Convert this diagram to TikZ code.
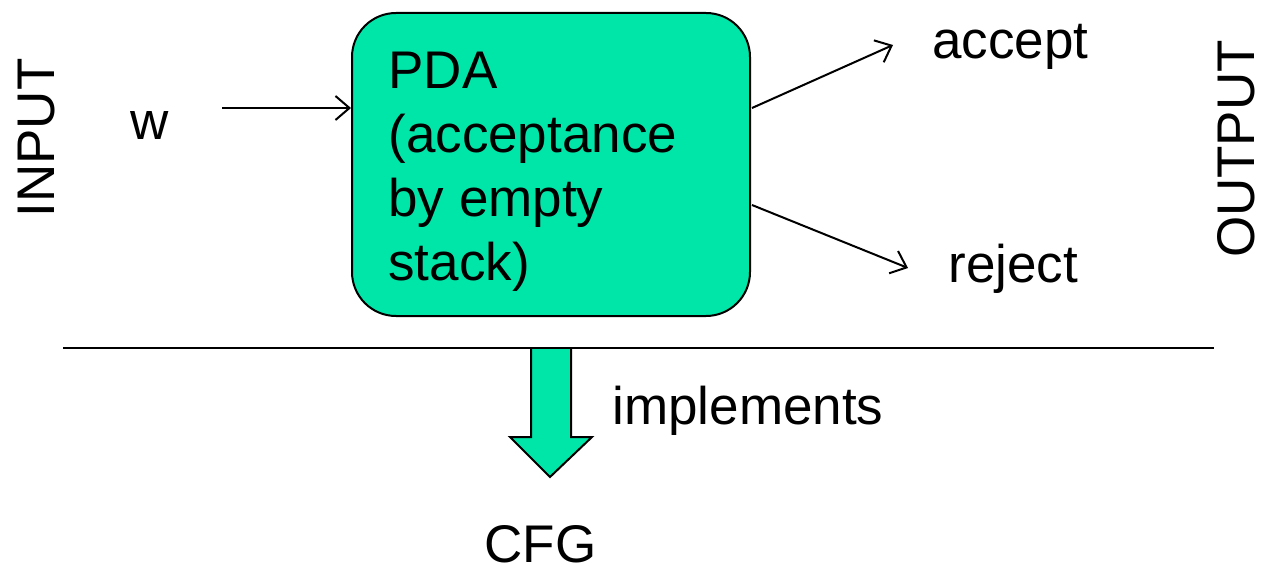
\documentclass[tikz,border=0pt]{standalone}
\usepackage{fontspec}
\setmainfont{Liberation Sans}
\usetikzlibrary{arrows.meta}
\definecolor{pdagreen}{RGB}{0,229,168}
\begin{document}
\begin{tikzpicture}[x=0.5pt,y=-0.5pt,
  lbl/.style={font=\fontsize{26.5}{32}\selectfont, inner sep=0pt},
  conn/.style={line width=1pt, -{Straight Barb[length=7pt,width=12pt,line width=1pt]}},
  box/.style={draw=black, line width=1pt, fill=pdagreen, rounded corners=22pt, minimum width=199pt, minimum height=151.5pt, inner sep=0pt}]
\useasboundingbox (0,0) rectangle (1263,572);
\node[box] (pda) at (551,164.5) {};
\node[lbl, anchor=north west, align=left] (pdatext) at (388,52) {PDA\\(acceptance\\by empty\\stack)};
\node[lbl, anchor=base west] (w) at (130,140) {w};
\node[lbl, anchor=base west] (accept) at (932,59) {accept};
\node[lbl, anchor=base west] (reject) at (948,283) {reject};
\node[lbl, rotate=90] (input) at (37,138) {INPUT};
\node[lbl, rotate=90] (output) at (1236,149) {OUTPUT};
\node[lbl, anchor=base west] (impl) at (612,424) {implements};
\node[lbl, anchor=base west] (cfg) at (484,562) {CFG};
\coordinate (win) at (222,108);
\coordinate (pdain) at (pda.west |- win);
\coordinate (accout) at (752,108);
\coordinate (acctip) at (893,45);
\coordinate (rejout) at (752,205);
\coordinate (rejtip) at (908,268);
\draw[conn] (win) -- (pdain);
\draw[conn] (accout) -- (acctip);
\draw[conn] (rejout) -- (rejtip);
\coordinate (lineL) at (63,348);
\coordinate (lineR) at (1214,348);
\draw[line width=1pt, fill=pdagreen, line join=miter]
  (531,348) -- (531,437) -- (510,437) -- (550,477) -- (592,437) -- (571,437) -- (571,348);
\draw[line width=1pt] (lineL) -- (lineR);
\end{tikzpicture}
\end{document}
